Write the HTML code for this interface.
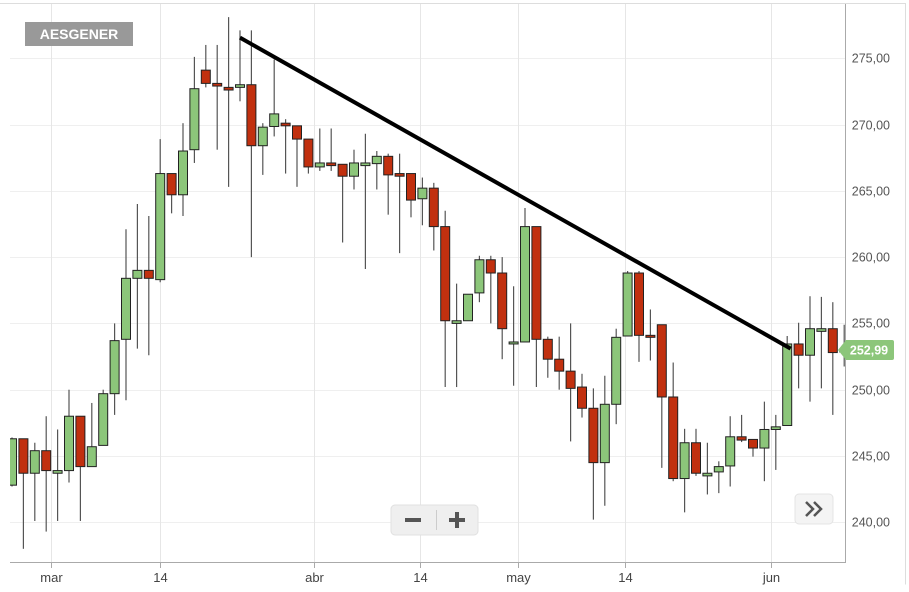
<!DOCTYPE html>
<html><head><meta charset="utf-8"><style>
body{margin:0;background:#fff;}
svg text{font-family:"Liberation Sans",sans-serif;}
</style></head><body>
<svg id="chart" width="909" height="587" xmlns="http://www.w3.org/2000/svg">
<defs><clipPath id="plotclip"><rect x="10" y="0" width="835.5" height="562"/></clipPath></defs>
<g id="grid"></g>
<g id="candles" clip-path="url(#plotclip)"></g>
<g id="trend"></g>
<g id="axes"></g>
</svg>
<script>
const opens  = [242.8,246.3,243.7,245.4,243.7,243.9,248.0,244.2,245.8,249.7,253.8,258.4,259.0,258.3,266.3,264.7,268.1,274.1,273.1,272.8,272.8,273.0,268.4,269.85,270.1,269.9,268.9,266.8,267.1,267.0,266.1,266.9,267.05,267.6,266.3,266.3,264.4,265.2,262.3,255.0,255.2,257.3,259.8,258.8,253.6,253.6,262.3,253.8,252.3,251.4,250.2,248.6,244.5,248.9,254.05,258.8,254.1,254.9,249.45,243.3,246.0,243.5,243.8,244.25,246.45,246.25,245.6,247.0,247.3,253.45,252.6,254.4,254.6,253.0];
const closes = [246.3,243.7,245.4,243.9,243.9,248.0,244.2,245.7,249.7,253.7,258.4,259.0,258.4,266.3,264.7,268.0,272.7,273.1,272.9,272.6,273.0,268.4,269.8,270.8,269.9,268.9,266.8,267.1,266.9,266.1,267.1,267.1,267.6,266.2,266.1,264.3,265.2,262.3,255.2,255.2,257.2,259.8,258.8,254.6,253.6,262.3,253.8,252.3,251.4,250.1,248.6,244.5,248.9,253.95,258.8,254.1,253.95,249.45,243.3,246.0,243.7,243.7,244.2,246.45,246.2,245.6,247.0,247.2,253.45,252.6,254.6,254.6,252.8,252.99];
const highs  = [246.4,246.3,246.0,248.0,247.0,250.0,248.0,249.0,250.0,255.0,262.1,264.0,263.1,268.9,266.3,270.1,275.1,276.0,276.0,278.1,277.1,277.1,270.1,274.9,270.4,269.9,268.9,269.7,269.7,267.0,268.1,269.3,268.0,267.8,267.8,266.3,266.0,265.6,263.5,258.0,257.2,260.1,260.1,260.0,257.8,263.7,262.3,254.0,254.0,255.0,251.2,250.1,251.05,254.6,258.95,258.95,256.05,254.9,252.05,247.05,247.05,246.0,244.6,248.0,248.1,246.25,249.1,248.1,254.05,255.05,257.05,257.0,256.6,254.9];
const lows   = [242.7,238.0,240.1,239.3,240.1,243.0,240.1,244.2,245.8,248.1,249.2,253.1,252.6,258.1,263.3,263.1,267.1,272.8,268.1,265.3,271.75,260.0,266.2,269.1,266.3,265.3,266.3,266.5,266.5,261.1,265.1,259.1,265.1,263.2,260.3,263.0,262.4,260.5,250.2,250.2,255.2,256.6,255.0,252.3,250.3,253.6,250.2,250.9,250.0,246.1,247.9,240.2,241.25,247.4,254.05,252.1,252.2,244.1,243.1,240.75,243.5,242.1,242.2,242.7,246.05,244.95,243.1,243.95,247.3,250.1,249.1,250.1,248.1,251.75];
const yTicks = [240,245,250,255,260,265,270,275];
const xLabels = ["mar","14","abr","14","may","14","jun"];
const xLabelIdx = [3.42,13.0,26.5,35.8,44.4,53.8,66.6];
const trendIdx = [20,68.3];
const trendVal = [276.55,253.1];
const lastPrice = 252.99;

const NS="http://www.w3.org/2000/svg";
const X0=12, STEP=11.4, PLOT_R=845.5, PLOT_B=562;
function xs(i){return X0+i*STEP;}
function ys(v){return 58.2+(275-v)*13.26;}
function mk(tag,attrs,parent){const e=document.createElementNS(NS,tag);for(const k in attrs)e.setAttribute(k,attrs[k]);parent.appendChild(e);return e;}
const svg=document.getElementById('chart');
const grid=document.getElementById('grid'),cg=document.getElementById('candles'),tg=document.getElementById('trend'),ag=document.getElementById('axes');

// outer border
let b=mk('path',{d:'M0 3.5 H905.5 V584.5',fill:'none',stroke:'#ddd','stroke-width':1},grid);



yTicks.forEach(v=>{
  const y=Math.round(ys(v))+0.5;
  const l=mk('line',{x1:10,x2:PLOT_R,y1:y,y2:y,stroke:'#efefef','stroke-width':1},grid);
  
  
  const t=mk('text',{x:890,y:y+4,'text-anchor':'end','font-size':12.5,fill:'#555'},ag);
  t.textContent=v.toFixed(2).replace('.',',');
  
  
});
xLabelIdx.forEach((ix,k)=>{
  const x=Math.round(xs(ix))+0.5;
  const l=mk('line',{x1:x,x2:x,y1:4,y2:PLOT_B,stroke:'#e6e6e6','stroke-width':1},grid);
  
  
  const tk=mk('line',{x1:x,x2:x,y1:PLOT_B,y2:PLOT_B+6,stroke:'#aaa'},ag);
  
  
  const t=mk('text',{x:x,y:582,'text-anchor':'middle','font-size':13,fill:'#444'},ag);
  t.textContent=xLabels[k];
  
  
});
let ax=mk('path',{d:`M10 ${PLOT_B+0.5} H${PLOT_R} V4`,fill:'none',stroke:'#aaa','stroke-width':1},ag);



opens.forEach((o,i)=>{
  const c=closes[i],x=xs(i),up=c>=o;
  const g=mk('g',{},cg);
  
  
  mk('line',{x1:x,x2:x,y1:ys(highs[i]),y2:ys(lows[i]),stroke:'#555','stroke-width':1.2},g);
  const top=ys(Math.max(o,c)),h=Math.max(2,ys(Math.min(o,c))-top);
  mk('rect',{x:x-4.5,y:top,width:9,height:h,fill:up?'#8cc67a':'#c1300f',stroke:'#222','stroke-width':1},g);
});

let tl=mk('line',{x1:xs(trendIdx[0]),y1:ys(trendVal[0]),x2:xs(trendIdx[1]),y2:ys(trendVal[1]),stroke:'#000','stroke-width':4},tg);



// price badge
const py=ys(lastPrice);
let pb=mk('path',{d:`M838 ${py} L846 ${py-10} H892 Q894 ${py-10} 894 ${py-8} V${py+8} Q894 ${py+10} 892 ${py+10} H846 Z`,fill:'#8cc67a'},ag);


let pt=mk('text',{x:869,y:py+4.5,'text-anchor':'middle','font-size':12.5,'font-weight':'bold',fill:'#fff'},ag);
pt.textContent=lastPrice.toFixed(2).replace('.',',');



// ticker label
let tb=mk('rect',{x:25,y:22,width:108,height:24,fill:'#999'},ag);


let tt=mk('text',{x:79,y:39,'text-anchor':'middle','font-size':14,'font-weight':'bold',fill:'#fff'},ag);
tt.textContent='AESGENER';



// zoom buttons
let zb=mk('rect',{x:391,y:505,width:87,height:30,rx:4,fill:'#efefef',stroke:'#e0e0e0'},ag);


mk('line',{x1:436.5,x2:436.5,y1:510,y2:530,stroke:'#ccc'},ag);
let zm=mk('rect',{x:405,y:518,width:16,height:4,fill:'#555'},ag);


let zp=mk('path',{d:'M449 518 H465 V522 H449 Z M455 512 H459 V528 H455 Z',fill:'#555'},ag);



let nb=mk('rect',{x:795,y:494,width:38,height:30,rx:4,fill:'#f4f4f4',stroke:'#e4e4e4'},ag);


mk('path',{d:'M806 502 L813 509 L806 516 M814 502 L821 509 L814 516',fill:'none',stroke:'#555','stroke-width':2.5},ag);
</script>
</body></html>
